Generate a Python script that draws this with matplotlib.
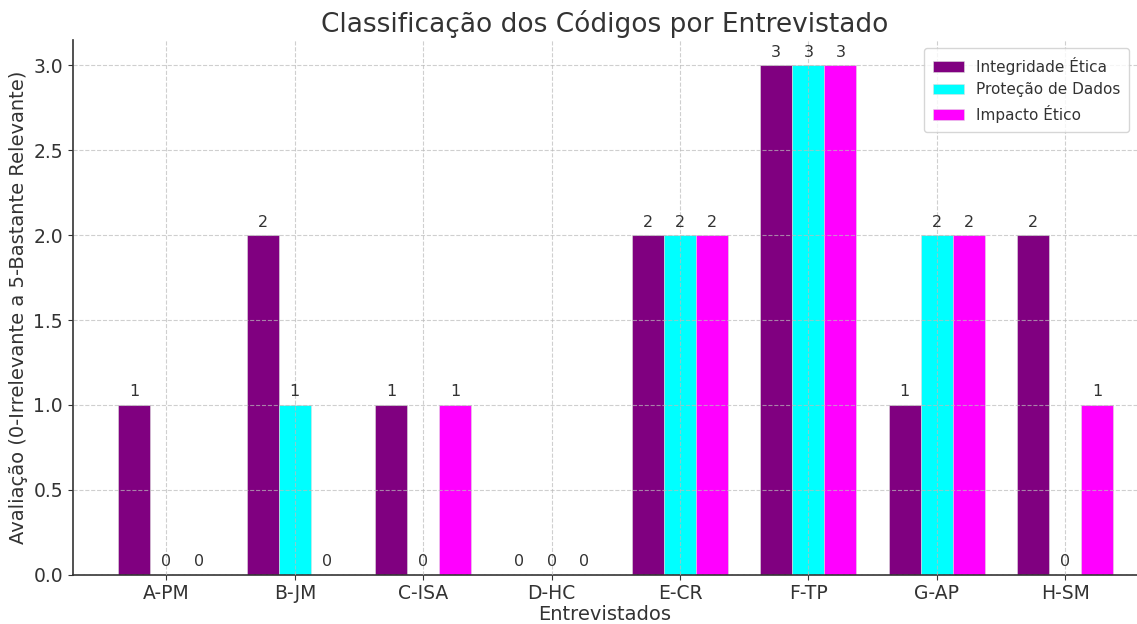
import numpy as np
import matplotlib.pyplot as plt

# dados
entrevistados = ['A-PM', 'B-JM', 'C-ISA', 'D-HC', 'E-CR', 'F-TP', 'G-AP', 'H-SM']
integridade_etica = [1, 2, 1, 0, 2, 3, 1, 2]
protecao_dados = [0, 1, 0, 0, 2, 3, 2, 0]
impacto_etico = [0, 0, 1, 0, 2, 3, 2, 1]

series = [('Integridade Ética', integridade_etica, '#800080'),
          ('Proteção de Dados', protecao_dados, '#00FFFF'),
          ('Impacto Ético', impacto_etico, '#FF00FF')]

txt = '#333333'
plt.rcParams['text.color'] = txt
plt.rcParams['axes.labelcolor'] = txt
plt.rcParams['xtick.color'] = txt
plt.rcParams['ytick.color'] = txt

fig, ax = plt.subplots(figsize=(11.37, 6.24), dpi=100)
fig.subplots_adjust(left=0.064, right=1.0, top=0.936, bottom=0.079)

x = np.arange(len(entrevistados))
w = 0.25
for i, (nome, vals, cor) in enumerate(series):
    pos = x + (i - 1) * w
    barras = ax.bar(pos, vals, w, label=nome, color=cor, edgecolor='#dddddd', linewidth=0.4)
    for b, v in zip(barras, vals):
        ax.annotate(f'{v}', (b.get_x() + b.get_width() / 2, v),
                    xytext=(0, 4), textcoords='offset points',
                    ha='center', va='bottom', fontsize=11.5, color=txt)

ax.set_title('Classificação dos Códigos por Entrevistado', fontsize=19, color=txt)
ax.set_xlabel('Entrevistados', fontsize=14, labelpad=1)
ax.set_ylabel('Avaliação (0-Irrelevante a 5-Bastante Relevante)', fontsize=14)
ax.set_xticks(x)
ax.set_xticklabels(entrevistados, fontsize=13.5)
ax.tick_params(axis='y', labelsize=13.5)
ax.set_xlim(-0.73, 7.56)
ax.set_ylim(0, 3.15)

ax.grid(True, linestyle='--', color='#bbbbbb', linewidth=0.8, alpha=0.7)
ax.set_axisbelow(False)
for s in ['top', 'right']:
    ax.spines[s].set_visible(False)
for s in ['left', 'bottom']:
    ax.spines[s].set_color('#333333')
    ax.spines[s].set_linewidth(1.2)

leg = ax.legend(loc='upper right', fontsize=11, borderpad=0.6)
leg.get_frame().set_edgecolor('#cccccc')

fig.savefig('out.png', dpi=100)
